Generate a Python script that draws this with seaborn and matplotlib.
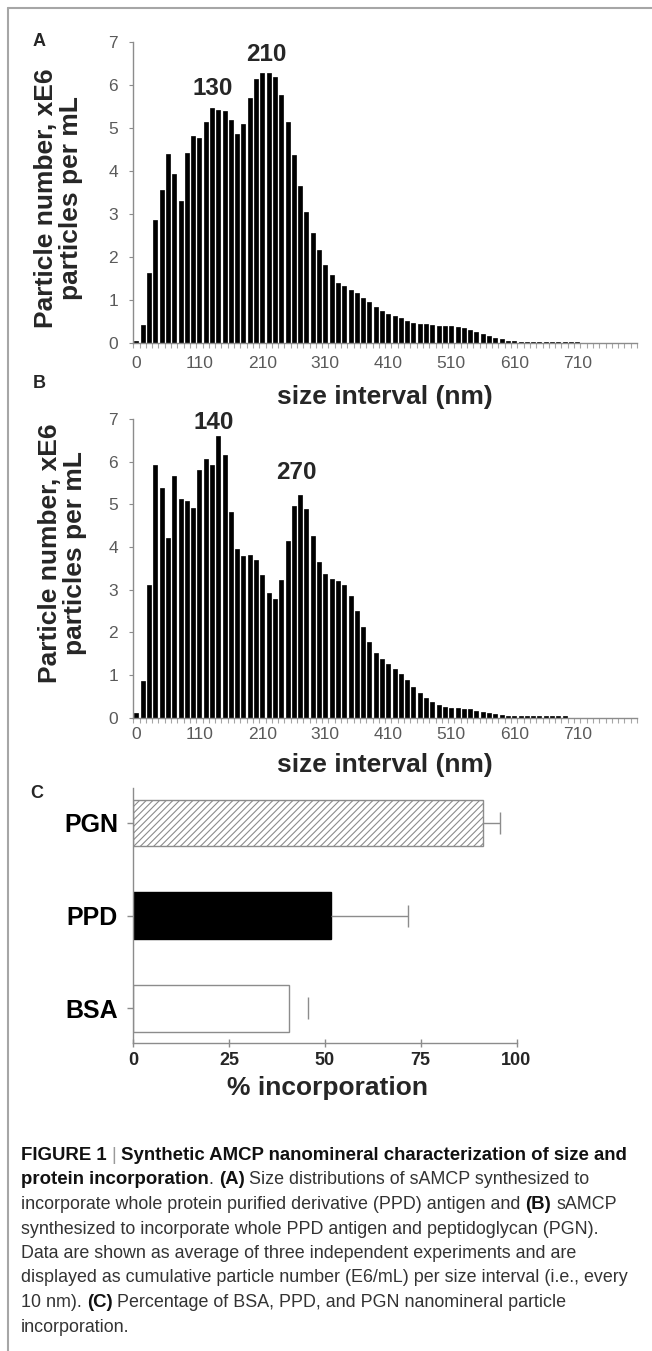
import numpy as np
import pandas as pd
import matplotlib
matplotlib.use("Agg")
import matplotlib.pyplot as plt
from matplotlib import font_manager
from matplotlib.lines import Line2D
import seaborn as sns

# ---- data -------------------------------------------------------------
# particle number (x1e6 particles per mL) in consecutive 10 nm size intervals
counts_ppd = [0.05, 0.43, 1.63, 2.87, 3.57, 4.40, 3.93, 3.31, 4.43, 4.82,
              4.76, 5.14, 5.47, 5.42, 5.40, 5.18, 4.87, 5.09, 5.70, 6.15,
              6.29, 6.29, 6.18, 5.78, 5.13, 4.38, 3.66, 3.06, 2.56, 2.16,
              1.82, 1.58, 1.40, 1.32, 1.24, 1.16, 1.06, 0.95, 0.85, 0.75,
              0.68, 0.64, 0.58, 0.52, 0.47, 0.45, 0.44, 0.43, 0.41, 0.41,
              0.40, 0.39, 0.36, 0.31, 0.26, 0.21, 0.16, 0.12, 0.09, 0.06,
              0.05, 0.04, 0.04, 0.04, 0.03, 0.03, 0.03, 0.03, 0.03, 0.03,
              0.03]
counts_ppd_pgn = [0.12, 0.86, 3.11, 5.93, 5.38, 4.21, 5.67, 5.12, 5.08, 4.91,
                  5.81, 6.06, 5.93, 6.61, 6.16, 4.81, 3.95, 3.78, 3.82, 3.70,
                  3.35, 2.92, 2.78, 3.23, 4.14, 4.97, 5.22, 4.89, 4.25, 3.66,
                  3.36, 3.24, 3.21, 3.11, 2.86, 2.51, 2.13, 1.77, 1.52, 1.38,
                  1.25, 1.14, 1.02, 0.88, 0.71, 0.57, 0.45, 0.36, 0.30, 0.25,
                  0.23, 0.22, 0.20, 0.20, 0.16, 0.14, 0.12, 0.09, 0.06, 0.05,
                  0.04, 0.04, 0.04, 0.04, 0.04, 0.03, 0.03, 0.03, 0.03]
n_intervals = 80
size_tick_labels = ["0", "110", "210", "310", "410", "510", "610", "710"]
size_tick_index = [0, 10, 20, 30, 40, 50, 60, 70]

# peak annotations: (text, interval index, height)
peaks_ppd = [("130", 12.1, 5.93), ("210", 20.7, 6.72)]
peaks_ppd_pgn = [("140", 12.2, 6.92), ("270", 25.4, 5.75)]

antigens = ["PGN", "PPD", "BSA"]
incorporation = [91.3, 51.7, 40.6]
incorporation_sd = [4.3, 20.0, 4.9]
pct_ticks = [0, 25, 50, 75, 100]

# ---- style ------------------------------------------------------------
sns.set_style("white")
plt.rcParams["font.family"] = ["Liberation Sans", "DejaVu Sans"]
plt.rcParams["hatch.linewidth"] = 0.8

installed = {f.name for f in font_manager.fontManager.ttflist}
narrow = "Liberation Sans Narrow" if "Liberation Sans Narrow" in installed else "Liberation Sans"

AXIS_GRAY = "#8c8c8c"
TICK_TEXT = "#5a5a5a"

W, H = 652, 1351
fig = plt.figure(figsize=(W / 100, H / 100), dpi=100)
fig.patch.set_facecolor("white")


def axes_px(left, top, right, bottom):
    return fig.add_axes([left / W, 1 - bottom / H, (right - left) / W, (bottom - top) / H])


def size_panel(ax, counts, peaks, ylab_pos, xlab_y, xtick_pad):
    df = pd.DataFrame({"interval": np.arange(len(counts)), "count": counts})
    sns.barplot(data=df, x="interval", y="count", color="black", saturation=1,
                width=0.64, edgecolor="black", linewidth=0.5, errorbar=None, ax=ax)
    ax.set_xlim(-0.5, n_intervals - 0.5)
    ax.set_ylim(0, 7)
    ax.set_yticks(range(8))
    ax.set_xticks(size_tick_index, size_tick_labels)
    ax.set_xticks(np.arange(-0.5, n_intervals, 1), minor=True)
    ax.tick_params(axis="x", which="major", length=0, pad=xtick_pad,
                   labelsize=12.5, labelcolor=TICK_TEXT)
    ax.tick_params(axis="x", which="minor", bottom=True, direction="out",
                   length=3.5, width=0.8, color="#a6a6a6")
    ax.tick_params(axis="y", left=True, direction="out", length=3, width=0.8,
                   color=AXIS_GRAY, labelsize=12.5, labelcolor=TICK_TEXT, pad=8)
    for side in ("top", "right"):
        ax.spines[side].set_visible(False)
    for side in ("left", "bottom"):
        ax.spines[side].set_color(AXIS_GRAY)
        ax.spines[side].set_linewidth(1.0)
    ax.set_xlabel("size interval (nm)", fontsize=19, fontweight="bold")
    ax.xaxis.set_label_coords(0.5, xlab_y)
    ax.xaxis.label.set_verticalalignment("center")
    ax.set_ylabel("Particle number, xE6\nparticles per mL", fontsize=19,
                  fontweight="bold", linespacing=1.05)
    ax.yaxis.set_label_coords(*ylab_pos)
    ax.yaxis.label.set_verticalalignment("center")
    for txt, x, y in peaks:
        ax.text(x, y, txt, ha="center", va="center", fontsize=17.5, fontweight="bold")


ax_a = axes_px(133.3, 42, 637, 343.3)
size_panel(ax_a, counts_ppd, peaks_ppd, (-0.149, 0.482), -0.179, 9)

ax_b = axes_px(133.3, 419, 637, 717.7)
size_panel(ax_b, counts_ppd_pgn, peaks_ppd_pgn, (-0.141, 0.552), -0.158, 7)

# ---- panel C: incorporation ------------------------------------------
ax_c = axes_px(133.3, 788, 516.5, 1043.3)
df_c = pd.DataFrame({"antigen": antigens, "pct": incorporation})
fills = {"PGN": "white", "PPD": "black", "BSA": "white"}
sns.barplot(data=df_c, x="pct", y="antigen", hue="antigen", palette=fills,
            orient="h", width=0.5, saturation=1, edgecolor="#8c8c8c",
            linewidth=1.0, legend=False, errorbar=None, ax=ax_c)
for patch in ax_c.patches:
    name = antigens[int(round(patch.get_y() + patch.get_height() / 2))]
    if name == "PGN":
        patch.set_hatch("/////")
    elif name == "PPD":
        patch.set_edgecolor("black")

eb = ax_c.errorbar(incorporation, np.arange(len(antigens)),
                   xerr=[np.zeros(len(antigens)), incorporation_sd],
                   fmt="none", ecolor="#8c8c8c", elinewidth=1.0,
                   capsize=8, capthick=1.0)
_, caplines, barcols = eb.lines
for cl in caplines:
    if np.allclose(cl.get_xdata(), incorporation):
        cl.set_visible(False)
barcols[0].set_color(["#8c8c8c", "#8c8c8c", (0, 0, 0, 0)])

ax_c.set_xlim(0, 100)
ax_c.set_xticks(pct_ticks, [str(t) for t in pct_ticks])
ax_c.tick_params(axis="x", bottom=True, direction="inout", length=6, width=1.0,
                 color=AXIS_GRAY, pad=3)
ax_c.tick_params(axis="y", left=True, direction="out", length=4, width=1.0,
                 color=AXIS_GRAY, pad=7)
for lab in ax_c.get_xticklabels():
    lab.set_fontfamily(narrow)
    lab.set_fontweight("bold")
    lab.set_fontsize(13)
    lab.set_color("#262626")
for lab in ax_c.get_yticklabels():
    lab.set_fontweight("bold")
    lab.set_fontsize(18)
    lab.set_color("black")
for side in ("top", "right"):
    ax_c.spines[side].set_visible(False)
for side in ("left", "bottom"):
    ax_c.spines[side].set_color(AXIS_GRAY)
    ax_c.spines[side].set_linewidth(1.0)
ax_c.set_ylabel("")
ax_c.set_xlabel("% incorporation", fontsize=19, fontweight="bold")
ax_c.xaxis.set_label_coords(0.507, -0.175)
ax_c.xaxis.label.set_verticalalignment("center")

# ---- panel letters and frame -----------------------------------------
for letter, (x, y) in {"A": (39, 42), "B": (39, 383), "C": (37, 793)}.items():
    fig.text(x / W, 1 - y / H, letter, ha="center", va="center",
             fontsize=13, fontweight="bold")

frame_kw = dict(transform=fig.transFigure, color="#a6a6a6", linewidth=1.5)
fig.add_artist(Line2D([8 / W, 1], [1 - 8 / H, 1 - 8 / H], **frame_kw))
fig.add_artist(Line2D([8 / W, 8 / W], [0, 1 - 8 / H], **frame_kw))

# ---- caption ----------------------------------------------------------
caption = [
    [("FIGURE 1", "b"), (" | ", "s"), ("Synthetic AMCP nanomineral characterization of size and", "b")],
    [("protein incorporation", "b"), (". ", "r"), ("(A)", "b"), (" Size distributions of sAMCP synthesized to", "r")],
    [("incorporate whole protein purified derivative (PPD) antigen and ", "r"), ("(B)", "b"), (" sAMCP", "r")],
    [("synthesized to incorporate whole PPD antigen and peptidoglycan (PGN).", "r")],
    [("Data are shown as average of three independent experiments and are", "r")],
    [("displayed as cumulative particle number (E6/mL) per size interval (i.e., every", "r")],
    [("10 nm). ", "r"), ("(C)", "b"), (" Percentage of BSA, PPD, and PGN nanomineral particle", "r")],
    [("incorporation.", "r")],
]
renderer = fig.canvas.get_renderer()


def text_width(s, size, weight):
    t = fig.text(0, 0, s, fontsize=size, fontweight=weight)
    w = t.get_window_extent(renderer).width
    t.remove()
    return w


def run_width(s, size, weight):
    core = s.strip(" ")
    n_sp = len(s) - len(s.lstrip(" ")) + len(s) - len(s.rstrip(" "))
    sp = text_width("x x", size, weight) - text_width("xx", size, weight)
    return (text_width(core, size, weight) if core else 0) + n_sp * sp, sp


CAP_X0 = 21
ref = 10.0
w_line6 = sum(run_width(s, ref, "normal")[0] for s, _ in caption[5])
size_reg = ref * (627 - CAP_X0) / w_line6
w_reg1 = sum(run_width(s, size_reg, "normal")[0] for s, k in caption[0] if k != "b")
w_bold1 = sum(run_width(s, ref, "bold")[0] for s, k in caption[0] if k == "b")
size_bold = ref * (630 - CAP_X0 - w_reg1) / w_bold1

for i, line in enumerate(caption):
    y = 1 - (1160 + 24.5 * i) / H
    x = CAP_X0
    for s, kind in line:
        weight = "bold" if kind == "b" else "normal"
        size = size_bold if kind == "b" else size_reg
        color = {"b": "#111111", "r": "#333333", "s": "#9a9a9a"}[kind]
        w, sp = run_width(s, size, weight)
        lead = len(s) - len(s.lstrip(" "))
        core = s.strip(" ")
        if core:
            fig.text((x + lead * sp) / W, y, core, fontsize=size, fontweight=weight,
                     color=color, ha="left", va="baseline")
        x += w

fig.savefig("out.png", dpi=100)
